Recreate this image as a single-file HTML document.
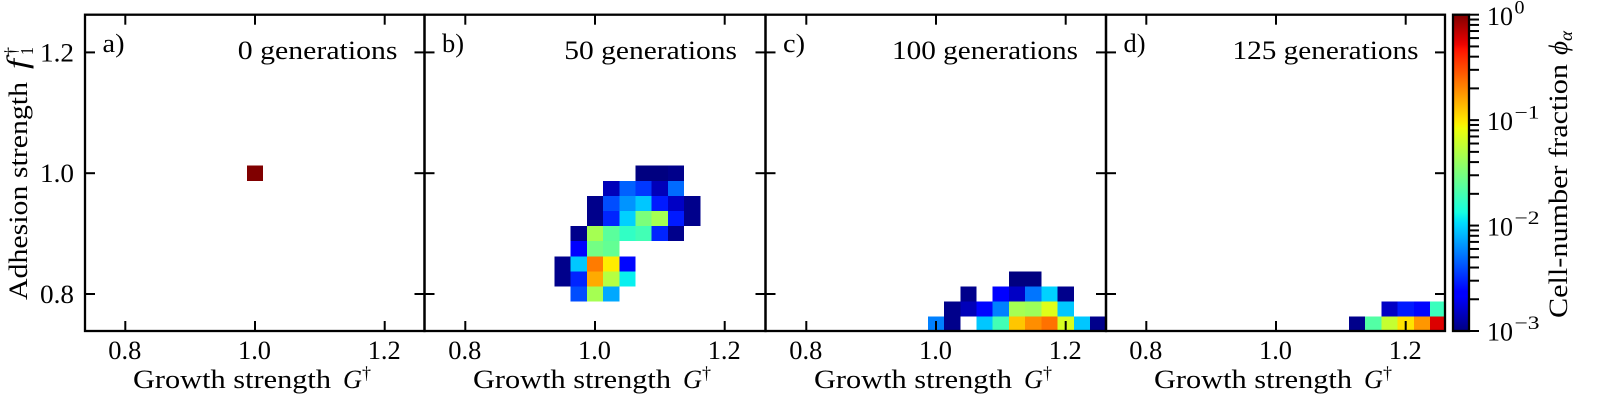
<!DOCTYPE html>
<html>
<head>
<meta charset="utf-8">
<title>Cell-number fraction heatmaps</title>
<style>
  html, body { margin: 0; padding: 0; background: #fff; }
  svg { display: block; }
  text { font-family: "Liberation Serif", "DejaVu Serif", serif; fill: #000; }
</style>
</head>
<body>
<svg id="figure" xmlns="http://www.w3.org/2000/svg" width="1600" height="400" viewBox="0 0 1600 400"></svg>
<script>
const _ = null;
const growthValues = [0.95, 0.975, 1.0, 1.025, 1.05, 1.075, 1.1, 1.125, 1.15, 1.175, 1.2, 1.225, 1.25];
const adhesionValues = [1.0, 0.975, 0.95, 0.925, 0.9, 0.875, 0.85, 0.825, 0.8, 0.775, 0.75];
const xTickValues = [0.8, 1.0, 1.2];
const yTickValues = [0.8, 1.0, 1.2];
const colorbarDecades = [0, -1, -2, -3];
const panelLetters = ["a)", "b)", "c)", "d)"];
const panelTitles = ["0 generations", "50 generations", "100 generations", "125 generations"];

const logPhiA = [
  [_,_,0,_,_,_,_,_,_,_,_,_,_],
  [_,_,_,_,_,_,_,_,_,_,_,_,_],
  [_,_,_,_,_,_,_,_,_,_,_,_,_],
  [_,_,_,_,_,_,_,_,_,_,_,_,_],
  [_,_,_,_,_,_,_,_,_,_,_,_,_],
  [_,_,_,_,_,_,_,_,_,_,_,_,_],
  [_,_,_,_,_,_,_,_,_,_,_,_,_],
  [_,_,_,_,_,_,_,_,_,_,_,_,_],
  [_,_,_,_,_,_,_,_,_,_,_,_,_],
  [_,_,_,_,_,_,_,_,_,_,_,_,_],
  [_,_,_,_,_,_,_,_,_,_,_,_,_]
];
const logPhiB = [
  [_,_,_,_,_,-3,-3,-2.97,_,_,_,_,_],
  [_,_,_,-2.85,-2.34,-2.46,-2.85,-2.31,_,_,_,_,_],
  [_,_,-2.97,-2.4,-2.19,-2.04,-2.55,-2.82,-2.97,_,_,_,_],
  [_,_,-2.97,-2.52,-2.01,-1.5,-1.35,-2.55,-2.97,_,_,_,_],
  [_,-2.97,-1.35,-1.62,-1.77,-1.71,-2.52,-2.97,_,_,_,_,_],
  [_,-2.67,-1.53,-1.59,_,_,_,_,_,_,_,_,_],
  [-2.97,-2.04,-0.66,-1.02,-2.61,_,_,_,_,_,_,_,_],
  [-2.97,-2.52,-0.81,-1.29,-1.92,_,_,_,_,_,_,_,_],
  [_,-2.4,-1.35,-2.13,_,_,_,_,_,_,_,_,_],
  [_,_,_,_,_,_,_,_,_,_,_,_,_],
  [_,_,_,_,_,_,_,_,_,_,_,_,_]
];
const logPhiC = [
  [_,_,_,_,_,_,_,_,_,_,_,_,_],
  [_,_,_,_,_,_,_,_,_,_,_,_,_],
  [_,_,_,_,_,_,_,_,_,_,_,_,_],
  [_,_,_,_,_,_,_,_,_,_,_,_,_],
  [_,_,_,_,_,_,_,_,_,_,_,_,_],
  [_,_,_,_,_,_,_,_,_,_,_,_,_],
  [_,_,_,_,_,_,_,_,_,_,_,_,_],
  [_,_,_,_,_,_,_,-3,-3,_,_,_,_],
  [_,_,_,_,-2.97,_,-2.67,-2.82,-2.28,-2.01,-2.97,_,_],
  [_,_,_,-2.97,-2.85,-2.61,-2.25,-1.35,-1.38,-1.14,-2.04,_,_],
  [_,_,-2.25,-2.97,_,-2.04,-1.71,-0.9,-0.72,-0.63,-1.17,-2.04,-2.97]
];
const logPhiD = [
  [_,_,_,_,_,_,_,_,_,_,_,_,_],
  [_,_,_,_,_,_,_,_,_,_,_,_,_],
  [_,_,_,_,_,_,_,_,_,_,_,_,_],
  [_,_,_,_,_,_,_,_,_,_,_,_,_],
  [_,_,_,_,_,_,_,_,_,_,_,_,_],
  [_,_,_,_,_,_,_,_,_,_,_,_,_],
  [_,_,_,_,_,_,_,_,_,_,_,_,_],
  [_,_,_,_,_,_,_,_,_,_,_,_,_],
  [_,_,_,_,_,_,_,_,_,_,_,_,_],
  [_,_,_,_,_,_,_,_,_,-2.82,-2.55,-2.61,-1.74],
  [_,_,_,_,_,_,_,-2.97,-1.65,-1.23,-0.99,-0.75,-0.24]
];
const panelData = [logPhiA, logPhiB, logPhiC, logPhiD];

const SVG_NS = "http://www.w3.org/2000/svg";
const svg = document.getElementById("figure");
const panelEdges = [85, 424.5, 765.5, 1106, 1445];
const centerTicks = [255, 595, 936, 1276];
const plotTop = 14.7;
const plotBottom = 331;
const cbLeft = 1453;
const cbRight = 1469;
const xScale = 648.5;
const yScale = 604;
const cellW = 0.025;

function make(tag, attrs, parent) {
  const el = document.createElementNS(SVG_NS, tag);
  for (const k in attrs) el.setAttribute(k, attrs[k]);
  (parent || svg).appendChild(el);
  return el;
}
function lerpStops(stops, t) {
  for (let i = 1; i < stops.length; i++) {
    if (t <= stops[i][0]) {
      const a = stops[i - 1], b = stops[i];
      return a[1] + (b[1] - a[1]) * (t - a[0]) / (b[0] - a[0]);
    }
  }
  return stops[stops.length - 1][1];
}
function jet(t) {
  t = Math.max(0, Math.min(1, t));
  const r = lerpStops([[0,0],[0.35,0],[0.66,1],[0.89,1],[1,0.5]], t);
  const g = lerpStops([[0,0],[0.125,0],[0.375,1],[0.64,1],[0.91,0],[1,0]], t);
  const b = lerpStops([[0,0.5],[0.11,1],[0.34,1],[0.65,0],[1,0]], t);
  return "rgb(" + Math.round(r * 255) + "," + Math.round(g * 255) + "," + Math.round(b * 255) + ")";
}
function colorForLog(v) { return jet((v + 3) / 3); }
function yPos(f) { return 294 + (0.8 - f) * yScale; }
function xPos(p, g) { return centerTicks[p] + (g - 1) * xScale; }
function cbY(logV) { return plotTop + (0 - logV) / 3 * (plotBottom - plotTop); }

function label(str, x, y, size, anchor, width, parent, style) {
  const t = make("text", { x: x, y: y, "font-size": size, "text-anchor": anchor || "start" }, parent);
  if (width) {
    t.setAttribute("textLength", width);
    t.setAttribute("lengthAdjust", "spacingAndGlyphs");
  }
  if (style) t.setAttribute("font-style", style);
  t.textContent = str;
  return t;
}

function drawPanel(p) {
  const left = panelEdges[p];
  const right = panelEdges[p + 1];
  const panelWidth = right - left;
  const letter = "abcd"[p];
  const g = make("g", {});
  
  

  const clip = make("clipPath", { id: "clip-" + letter }, g);
  make("rect", { x: left, y: plotTop, width: panelWidth, height: plotBottom - plotTop }, clip);

  const cells = make("g", { "clip-path": "url(#clip-" + letter + ")", "shape-rendering": "crispEdges" }, g);
  
  
  const matrix = panelData[p];
  matrix.forEach(function (row, r) {
    row.forEach(function (val, c) {
      if (val === null) return;
      const gv = growthValues[c], fv = adhesionValues[r];
      const x0 = xPos(p, gv - cellW / 2), x1 = xPos(p, gv + cellW / 2);
      const y0 = yPos(fv + cellW / 2), y1 = yPos(fv - cellW / 2);
      const cell = make("rect", { x: x0, y: y0, width: x1 - x0, height: y1 - y0, fill: colorForLog(val) }, cells);
      
      
    });
  });

  const tickStyle = { stroke: "#000", "stroke-width": 2 };
  xTickValues.forEach(function (v) {
    const x = xPos(p, v);
    const bt = make("line", Object.assign({ x1: x, x2: x, y1: plotBottom, y2: plotBottom - 10 }, tickStyle), g);
    
    
    const tt = make("line", Object.assign({ x1: x, x2: x, y1: plotTop, y2: plotTop + 10 }, tickStyle), g);
    
    
    const lab = label(v.toFixed(1), x - 0.5, 359, 26.5, "middle", 33, g);
    
    
  });
  yTickValues.forEach(function (v) {
    const y = yPos(v);
    const lt = make("line", Object.assign({ x1: left, x2: left + 10, y1: y, y2: y }, tickStyle), g);
    
    
    const rt = make("line", Object.assign({ x1: right, x2: right - 10, y1: y, y2: y }, tickStyle), g);
    
    
    if (p === 0) {
      const lab = label(v.toFixed(1), 74, y + 9, 26.5, "end", 34, g);
      
      
    }
  });

  const frame = make("rect", { x: left, y: plotTop, width: panelWidth, height: plotBottom - plotTop, fill: "none", stroke: "#000", "stroke-width": 2.3 }, g);
  
  

  const letterText = label(panelLetters[p], left + 17.5, 52, 26.5, "start", 22, g);
  
  

  const titleWidths = [159.7, 172.7, 186, 186];
  const titleText = label(panelTitles[p], left + 312.5, 59, 26, "end", titleWidths[p], g);
  
  

  const xl = xPos(p, 1.0) - 122;
  const xt = make("g", {}, g);
  
  
  label("Growth strength", xl, 388, 26, "start", 198, xt);
  label("G", xl + 210, 388, 26, "start", 19, xt, "italic");
  label("\u2020", xl + 229, 379, 18, "start", 9, xt);
}
panelData.forEach(function (_m, p) { drawPanel(p); });

/* y-axis title */
const yTitle = make("g", { transform: "translate(27,300) rotate(-90)" });


label("Adhesion strength", 0, 0, 26, "start", 218, yTitle);
label("f", 231, 0, 30, "start", 10, yTitle, "italic");
label("1", 245, 6, 18, "start", 8, yTitle);
label("\u2020", 244, -10, 18, "start", 9, yTitle);

/* colorbar */
const cb = make("g", {});


const defs = make("defs", {}, cb);
const grad = make("linearGradient", { id: "jet-gradient", x1: 0, y1: 1, x2: 0, y2: 0 }, defs);
for (let i = 0; i <= 64; i++) {
  make("stop", { offset: i / 64, "stop-color": jet(i / 64) }, grad);
}
const cbRect = make("rect", { x: cbLeft, y: plotTop, width: cbRight - cbLeft, height: plotBottom - plotTop, fill: "url(#jet-gradient)", stroke: "#000", "stroke-width": 2.3 }, cb);



colorbarDecades.forEach(function (d) {
  const y = cbY(d);
  const major = make("line", { x1: cbRight, x2: cbRight + 10, y1: y, y2: y, stroke: "#000", "stroke-width": 2 }, cb);
  
  
  if (d > -3) {
    for (let m = 2; m < 10; m++) {
      const my = cbY(d - 1 + Math.log10(m));
      const minor = make("line", { x1: cbRight, x2: cbRight + 10, y1: my, y2: my, stroke: "#000", "stroke-width": 2 }, cb);
      
      
    }
  }
  const shift = d === 0 ? 10.3 : 9.7;
  const base = make("g", {}, cb);
  
  
  label("10", 1487, y + shift, 26.5, "start", 26, base);
  const expStr = d === 0 ? "0" : "\u2212" + (-d);
  label(expStr, 1514.5, y + shift - 11.5, 18.5, "start", d === 0 ? 10 : 25, base);
});

const cbTitle = make("g", { transform: "translate(1567,318) rotate(-90)" });


label("Cell-number fraction", 0, 0, 26, "start", 254, cbTitle);
label("\u03D5", 263, 0, 26, "start", 14, cbTitle, "italic");
label("\u03B1", 277, 5, 18, "start", 10, cbTitle, "italic");
</script>
</body>
</html>
